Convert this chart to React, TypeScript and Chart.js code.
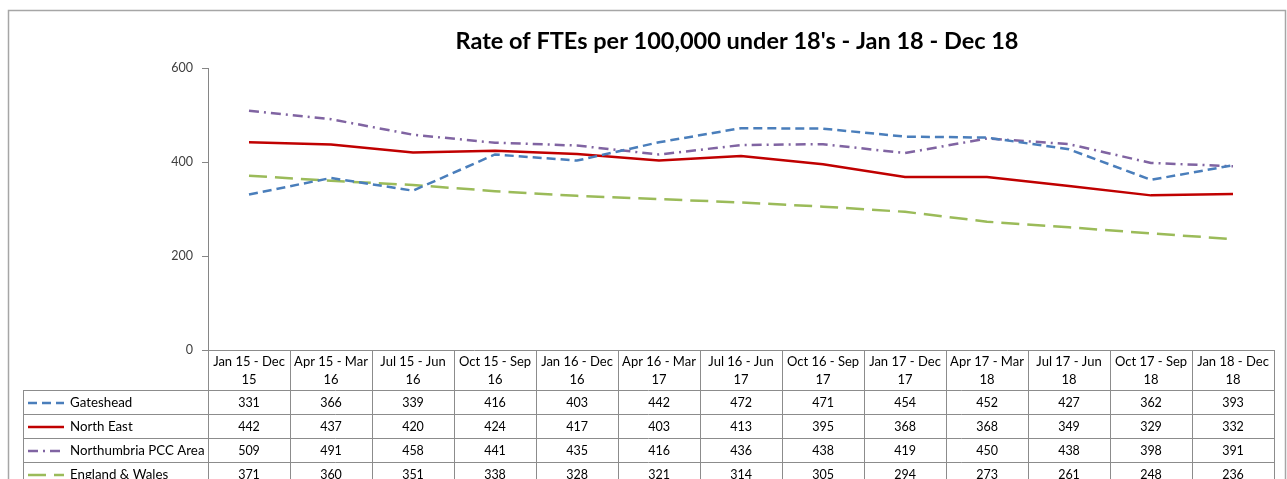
import React, { useEffect, useRef } from "react";
import { Chart, registerables } from "chart.js";

Chart.register(...registerables);

const chartTitle = "Rate of FTEs per 100,000 under 18's - Jan 18 - Dec 18";

const categories = [
  "Jan 15 - Dec 15",
  "Apr 15 - Mar 16",
  "Jul 15 - Jun 16",
  "Oct 15 - Sep 16",
  "Jan 16 - Dec 16",
  "Apr 16 - Mar 17",
  "Jul 16 - Jun 17",
  "Oct 16 - Sep 17",
  "Jan 17 - Dec 17",
  "Apr 17 - Mar 18",
  "Jul 17 - Jun 18",
  "Oct 17 - Sep 18",
  "Jan 18 - Dec 18",
];

const gateshead = [331, 366, 339, 416, 403, 442, 472, 471, 454, 452, 427, 362, 393];
const northEast = [442, 437, 420, 424, 417, 403, 413, 395, 368, 368, 349, 329, 332];
const northumbria = [509, 491, 458, 441, 435, 416, 436, 438, 419, 450, 438, 398, 391];
const englandWales = [371, 360, 351, 338, 328, 321, 314, 305, 294, 273, 261, 248, 236];

const yTicks = [0, 200, 400, 600];

const seriesNames = ["Gateshead", "North East", "Northumbria PCC Area", "England & Wales"];

const FONT = "Lato, 'Noto Sans', sans-serif";

const tablePlugin = {
  id: "excelTable",
  afterDraw(chart: any) {
    const ctx = chart.ctx as CanvasRenderingContext2D;
    const area = chart.chartArea;
    const xs = chart.scales.x;
    const n = categories.length;
    const colW = (area.right - area.left) / n;
    const top = area.bottom;
    const headerBottom = top + 40;
    const rowH = 24;
    const legendLeft = 23;
    const rows = chart.data.datasets.length;
    const tableBottom = headerBottom + rowH * rows;

    ctx.save();
    // outer border
    ctx.strokeStyle = "#a6a6a6";
    ctx.lineWidth = 1.5;
    ctx.strokeRect(8.5, 10.5, 1277, 520);

    // title
    ctx.fillStyle = "#000000";
    ctx.font = `bold 23.5px ${FONT}`;
    ctx.textAlign = "center";
    ctx.textBaseline = "middle";
    ctx.fillText(chartTitle, 737, 41);

    // grid lines of table
    ctx.strokeStyle = "#8c8c8c";
    ctx.lineWidth = 1;
    ctx.beginPath();
    ctx.moveTo(area.left, top + 0.5);
    ctx.lineTo(area.right, top + 0.5);
    for (let r = 0; r <= rows; r++) {
      const y = Math.round(headerBottom + r * rowH) + 0.5;
      ctx.moveTo(legendLeft, y);
      ctx.lineTo(area.right, y);
    }
    for (let i = 0; i <= n; i++) {
      const x = Math.round(area.left + i * colW) + 0.5;
      ctx.moveTo(x, top);
      ctx.lineTo(x, tableBottom);
    }
    ctx.moveTo(legendLeft + 0.5, headerBottom);
    ctx.lineTo(legendLeft + 0.5, tableBottom);
    ctx.stroke();

    // header text
    ctx.fillStyle = "#000000";
    ctx.font = `13px ${FONT}`;
    ctx.textAlign = "center";
    ctx.textBaseline = "middle";
    categories.forEach((c, i) => {
      const k = c.lastIndexOf(" ");
      const x = xs.getPixelForValue(i);
      ctx.fillText(c.slice(0, k), x, top + 12);
      ctx.fillText(c.slice(k + 1), x, top + 30);
    });

    // rows
    chart.data.datasets.forEach((ds: any, r: number) => {
      const cy = headerBottom + r * rowH + rowH / 2 + 1;
      ctx.font = `12.5px ${FONT}`;
      ds.data.forEach((v: number, i: number) => {
        ctx.fillText(String(v), xs.getPixelForValue(i), cy);
      });
      // legend sample
      ctx.save();
      ctx.strokeStyle = ds.borderColor;
      ctx.lineWidth = 2.5;
      ctx.setLineDash(ds.borderDash || []);
      ctx.beginPath();
      ctx.moveTo(28, cy);
      ctx.lineTo(64, cy);
      ctx.stroke();
      ctx.restore();
      ctx.font = `13.3px ${FONT}`;
      ctx.textAlign = "left";
      ctx.fillText(ds.label, 70, cy);
      ctx.textAlign = "center";
    });
    ctx.restore();
  },
};

export default function App() {
  const ref = useRef<HTMLCanvasElement | null>(null);

  useEffect(() => {
    if (!ref.current) return;
    const mk = (label: string, data: number[], color: string, dash: number[]) => ({
      label,
      data,
      borderColor: color,
      backgroundColor: color,
      borderWidth: 2.5,
      borderDash: dash,
      pointRadius: 0,
      tension: 0,
      fill: false,
    });
    const chart = new Chart(ref.current, {
      type: "line",
      data: {
        labels: categories,
        datasets: [
          mk(seriesNames[0], gateshead, "#4a7ebb", [9, 5]),
          mk(seriesNames[1], northEast, "#c00000", []),
          mk(seriesNames[2], northumbria, "#8064a2", [10, 5, 2, 5]),
          mk(seriesNames[3], englandWales, "#9bbb59", [18, 8]),
        ],
      },
      options: {
        animation: false,
        responsive: true,
        maintainAspectRatio: false,
        layout: { padding: { left: 0, top: 68, right: 13, bottom: 129 } },
        plugins: {
          legend: { display: false },
          title: { display: false },
          tooltip: { enabled: false },
        },
        scales: {
          x: { type: "category", display: false, offset: true },
          y: {
            min: 0,
            max: 600,
            afterBuildTicks: (s: any) => {
              s.ticks = yTicks.map((v) => ({ value: v }));
            },
            afterFit: (s: any) => {
              s.width = 208;
            },
            ticks: {
              color: "#404040",
              font: { family: FONT, size: 12.5 },
              padding: 9,
            },
            grid: {
              drawOnChartArea: false,
              drawTicks: true,
              tickLength: 6,
              color: "#868686",
            },
            border: { color: "#868686", width: 1 },
          },
        },
      },
      plugins: [tablePlugin],
    });
    return () => chart.destroy();
  }, []);

  return (
    <div style={{ position: "absolute", left: 0, top: 0, width: 1287, height: 479, background: "#fff" }}>
      <canvas ref={ref} />
    </div>
  );
}
